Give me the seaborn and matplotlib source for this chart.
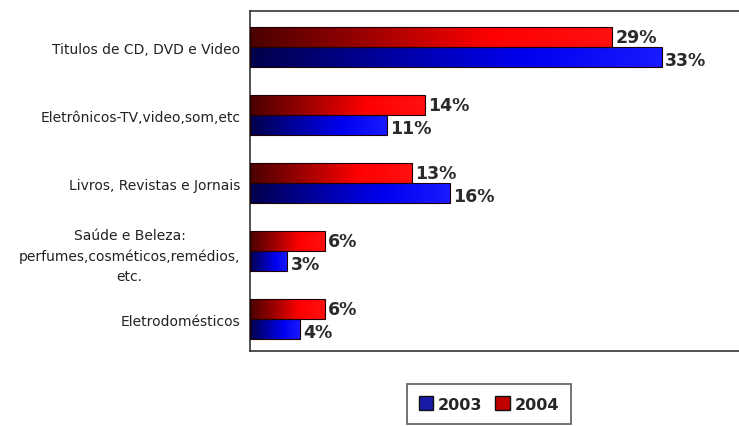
import numpy as np
import pandas as pd
import matplotlib
matplotlib.use("Agg")
import matplotlib.pyplot as plt
import seaborn as sns
from matplotlib.colors import LinearSegmentedColormap
from matplotlib.patches import Patch

categories = ["Titulos de CD, DVD e Video",
              "Eletrônicos-TV,video,som,etc",
              "Livros, Revistas e Jornais",
              "Saúde e Beleza:\nperfumes,cosméticos,remédios,\netc.",
              "Eletrodomésticos"]
values_2003 = [33, 11, 16, 3, 4]
values_2004 = [29, 14, 13, 6, 6]
years = ["2003", "2004"]

df = pd.DataFrame({
    "categoria": categories * 2,
    "ano": [years[0]] * len(categories) + [years[1]] * len(categories),
    "valor": values_2003 + values_2004,
})

sns.set_theme(style="white")
plt.rcParams["font.family"] = ["DejaVu Sans"]

fig = plt.figure(figsize=(7.39, 4.27), dpi=100)
ax = fig.add_axes([250 / 739, 1 - 352 / 427, 1 - 250 / 739, (352 - 12) / 427])

colors = {"2004": "#e00000", "2003": "#1010d0"}
sns.barplot(data=df, y="categoria", x="valor", hue="ano", hue_order=["2004", "2003"],
            palette=colors, orient="h", width=0.6, ax=ax, legend=False,
            edgecolor="#200000", linewidth=0.8)

xmax = 33 * 489 / 412
ax.set_xlim(0, xmax)
ylim = ax.get_ylim()
shift = 0.03

cmaps = {
    "2004": LinearSegmentedColormap.from_list("r", ["#4a0000", "#a00000", "#ff0000", "#ff1010"]),
    "2003": LinearSegmentedColormap.from_list("b", ["#00004a", "#0000a0", "#0000f0", "#1a1aff"]),
}
grad = np.linspace(0, 1, 256).reshape(1, -1)

n = len(categories)
for i, p in enumerate(ax.patches[: 2 * n]):
    yr = "2004" if i < n else "2003"
    x0, y0 = p.get_x(), p.get_y()
    w, h = p.get_width(), p.get_height()
    if w <= 0:
        continue
    im = ax.imshow(grad, cmap=cmaps[yr], aspect="auto",
                   extent=[x0, x0 + w, y0 + h, y0], zorder=2, interpolation="bicubic")
    im.set_clip_path(p)
    p.set_facecolor("none")
    p.set_zorder(3)
    ax.text(x0 + w + 0.25, y0 + h / 2 + (0.04 if yr == "2003" else 0.0), f"{w:.0f}%",
            va="center", ha="left", fontsize=12.5, fontweight="bold",
            color="#2a2a2a", zorder=4)

ax.set_xlim(0, xmax)
ax.set_ylim(ylim[0] - shift, ylim[1] - shift)

ax.set_xlabel("")
ax.set_ylabel("")
ax.set_xticks([])
ax.tick_params(axis="y", which="major", length=0, labelsize=10, colors="#222222", pad=7)
for lab in ax.get_yticklabels():
    lab.set_multialignment("center")
    lab.set_linespacing(1.55)
ax.set_yticks(np.arange(n - 1) + 0.5 - shift, minor=True)
ax.tick_params(axis="y", which="minor", length=4, width=1, color="#333333", direction="out")

for s in ["left", "top", "bottom", "right"]:
    ax.spines[s].set_color("#333333")
    ax.spines[s].set_linewidth(1.2)
ax.spines["right"].set_visible(False)

handles = [Patch(facecolor="#1a1aa8", edgecolor="#111111", label="2003"),
           Patch(facecolor="#c00000", edgecolor="#111111", label="2004")]
leg = fig.legend(handles=handles, loc="center", bbox_to_anchor=(489 / 739, 1 - 405 / 427),
                 ncol=2, frameon=True, fancybox=False, edgecolor="#333333",
                 prop={"weight": "bold", "size": 11.5},
                 handlelength=0.9, handleheight=0.9, handletextpad=0.3, columnspacing=0.8,
                 borderpad=0.75)
leg.get_frame().set_linewidth(1.2)

fig.savefig("out.png", dpi=100)
